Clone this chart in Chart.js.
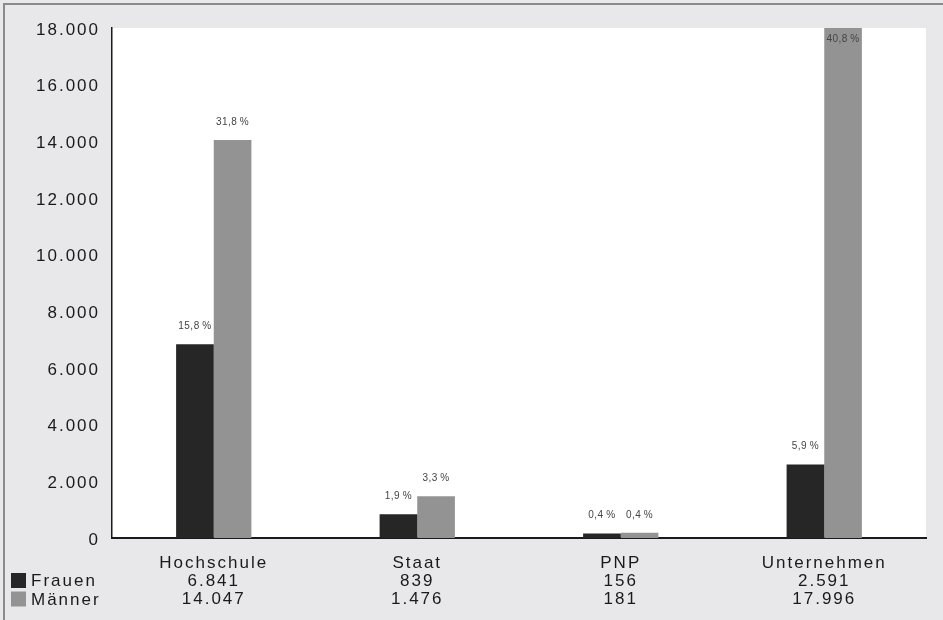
<!DOCTYPE html>
<html>
<head>
<meta charset="utf-8">
<script src="https://cdn.jsdelivr.net/npm/chart.js@4/dist/chart.umd.min.js"></script>
<style>
  html, body { margin: 0; padding: 0; background: #e8e8ea; }
  #wrap { width: 943px; height: 620px; position: relative; }
</style>
</head>
<body>
<div id="wrap"><canvas id="chart" width="943" height="620"></canvas></div>
<script>
const categories = ["Hochschule", "Staat", "PNP", "Unternehmen"];
const seriesNames = ["Frauen", "Männer"];
const frauen = [6841, 839, 156, 2591];
const maenner = [14047, 1476, 181, 17996];
const frauenPct = [15.8, 1.9, 0.4, 5.9];
const maennerPct = [31.8, 3.3, 0.4, 40.8];
const colors = ["#262626", "#939393"];

function fmt(n) {
  return n.toLocaleString("de-DE");
}
function fmtPct(p) {
  return p.toFixed(1).replace(".", ",") + "\u2009%";
}

// x labels: category name + values of both series (the data table)
const xLabels = categories.map((c, i) => [c, fmt(frauen[i]), fmt(maenner[i])]);

const FONT = "'Liberation Sans', Arial, sans-serif";

const backgroundPlugin = {
  id: "bg",
  beforeDraw(chart) {
    const ctx = chart.ctx;
    const a = chart.chartArea;
    ctx.letterSpacing = "2px";
    ctx.save();
    ctx.fillStyle = "#e8e8ea";
    ctx.fillRect(0, 0, chart.width, chart.height);
    ctx.fillStyle = "#ffffff";
    ctx.fillRect(a.left, a.top, a.right - a.left, a.bottom - a.top);
    // outer frame top + left
    ctx.strokeStyle = "#8a8a8a";
    ctx.lineWidth = 2;
    ctx.beginPath();
    ctx.moveTo(4, chart.height);
    ctx.lineTo(4, 4);
    ctx.lineTo(chart.width, 4);
    ctx.stroke();
    ctx.restore();
  },
  beforeLayout(chart) {
    chart.ctx.letterSpacing = "2px";
  },
};

const labelsPlugin = {
  id: "pctLabels",
  afterDatasetsDraw(chart) {
    const ctx = chart.ctx;
    const top = chart.chartArea.top;
    const pcts = [frauenPct, maennerPct];
    ctx.save();
    ctx.letterSpacing = "0.5px";
    ctx.font = "10px " + FONT;
    ctx.fillStyle = "#444444";
    ctx.textAlign = "center";
    ctx.textBaseline = "middle";
    chart.data.datasets.forEach((ds, di) => {
      chart.getDatasetMeta(di).data.forEach((bar, i) => {
        const y = Math.max(bar.y - 18, top + 11);
        ctx.fillText(fmtPct(pcts[di][i]), bar.x, y);
      });
    });
    // legend keys of the data table
    ctx.letterSpacing = "2px";
    ctx.font = "17px " + FONT;
    ctx.textAlign = "left";
    const rowY = [580.5, 599];
    seriesNames.forEach((name, k) => {
      ctx.fillStyle = colors[k];
      ctx.fillRect(11, rowY[k] - 7.5, 15, 15);
      ctx.fillStyle = "#1a1a1a";
      ctx.fillText(name, 31, rowY[k] + 1);
    });
    ctx.restore();
  },
};

new Chart(document.getElementById("chart"), {
  type: "bar",
  data: {
    labels: xLabels,
    datasets: [
      { label: seriesNames[0], data: frauen, backgroundColor: colors[0] },
      { label: seriesNames[1], data: maenner, backgroundColor: colors[1] },
    ],
  },
  options: {
    responsive: false,
    animation: false,
    devicePixelRatio: 1,
    layout: { padding: { top: 28, right: 17, bottom: 0, left: 0 } },
    datasets: { bar: { categoryPercentage: 0.37, barPercentage: 1.0 } },
    plugins: { legend: { display: false }, tooltip: { enabled: false } },
    scales: {
      x: {
        grid: { display: false, drawTicks: false },
        border: { display: true, color: "#1a1a1a", width: 2 },
        ticks: {
          color: "#1a1a1a",
          padding: 16,
          maxRotation: 0,
          autoSkip: false,
          font: { family: FONT, size: 17, lineHeight: 1.06 },
        },
        afterFit(scale) { scale.height = 82; },
      },
      y: {
        min: 0,
        max: 18000,
        grid: { display: false, drawTicks: false },
        border: { display: true, color: "#1a1a1a", width: 1.5 },
        ticks: {
          stepSize: 2000,
          color: "#1a1a1a",
          padding: 12,
          labelOffset: 2,
          font: { family: FONT, size: 17 },
          callback: (v) => fmt(v),
        },
        afterFit(scale) { scale.width = 112; },
      },
    },
  },
  plugins: [backgroundPlugin, labelsPlugin],
});
</script>
</body>
</html>
